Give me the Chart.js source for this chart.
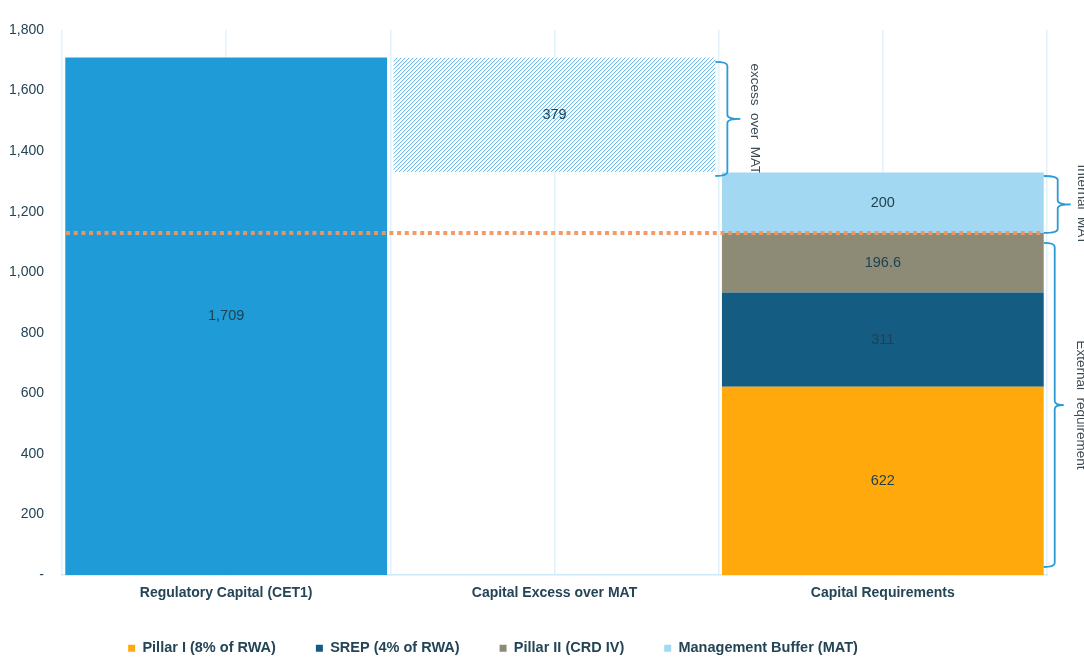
<!DOCTYPE html>
<html>
<head>
<meta charset="utf-8">
<script src="https://cdn.jsdelivr.net/npm/chart.js@4.4.1/dist/chart.umd.min.js"></script>
<style>
  html, body { margin: 0; padding: 0; background: #fff; }
  canvas { display: block; }
</style>
</head>
<body>
<canvas id="capital-chart" width="1084" height="657"></canvas>
<script>
const FONT = "'Liberation Sans', Arial, sans-serif"
const TEXT_COLOR = '#234556'

// Data
const categories = ['Regulatory Capital (CET1)', 'Capital Excess over MAT', 'Capital Requirements']
const regulatoryCapital = [1709, null, null]
const excessOverMat = [null, [1330, 1709], null]
const pillarOne = [null, null, 622]
const srep = [null, null, 311]
const pillarTwo = [null, null, 196.6]
const managementBuffer = [null, null, 200]
const yMax = 1800
const yStep = 200

// level of the dotted line (pillar I + SREP + pillar II)
const externalLevel = pillarOne[2] + srep[2] + pillarTwo[2]

// braces on the right: [from, to] in axis units, category they sit next to
const braces = [
  { text: 'excess over MAT', from: 1318, to: 1695, cat: 1, arm: 12, nub: 13, textDx: 39 },
  { text: 'Internal MAT', from: 1130, to: 1318, cat: 2, arm: 14, nub: 13, textDx: 38 },
  { text: 'External requirement', from: 27, to: 1097, cat: 2, arm: 11, nub: 9, textDx: 37 },
]

const ctxCapital = document.getElementById('capital-chart').getContext('2d')

function barRightEdge(chart, cat) {
  let edge = null
  chart.data.datasets.forEach((ds, i) => {
    if (ds.data[cat] == null) return
    const el = chart.getDatasetMeta(i).data[cat]
    edge = el.x + el.width / 2
  })
  return edge
}

// diagonal hatch for the "excess" bar, drawn inside the bar element
const hatch = {
  id: 'hatch',
  afterDatasetDraw(chart, args) {
    const ds = chart.data.datasets[args.index]
    if (!ds.hatched) return
    const ctx = chart.ctx
    args.meta.data.forEach((el, j) => {
      if (ds.data[j] == null) return
      const l = el.x - el.width / 2
      const r = el.x + el.width / 2
      const t = Math.min(el.y, el.base)
      const b = Math.max(el.y, el.base)
      const h = b - t
      ctx.save()
      ctx.beginPath()
      ctx.rect(l, t, r - l, h)
      ctx.clip()
      ctx.strokeStyle = '#45a4dd'
      ctx.lineWidth = 0.9
      ctx.beginPath()
      for (let s = l - h; s < r; s += 4) {
        ctx.moveTo(s, b)
        ctx.lineTo(s + h, t)
      }
      ctx.stroke()
      ctx.restore()
    })
  },
}

// rotated brace captions go under the bars (the bar hides the tail of "MAT")
const braceText = {
  id: 'braceText',
  beforeDatasetsDraw(chart) {
    const { ctx, scales: { y } } = chart
    ctx.save()
    ctx.fillStyle = '#3b4a53'
    ctx.font = '13.5px ' + FONT
    ctx.textAlign = 'center'
    ctx.textBaseline = 'middle'
    braces.forEach(b => {
      const x = barRightEdge(chart, b.cat) + b.textDx
      const mid = (y.getPixelForValue(b.from) + y.getPixelForValue(b.to)) / 2
      ctx.save()
      ctx.translate(x, mid)
      ctx.rotate(Math.PI / 2)
      ctx.fillText(b.text.split(' ').join('  '), 0, 0)
      ctx.restore()
    })
    ctx.restore()
  },
}

const overlay = {
  id: 'overlay',
  afterDatasetsDraw(chart) {
    const { ctx, chartArea, scales: { y } } = chart

    // dotted line at the external requirement level
    const ly = y.getPixelForValue(externalLevel)
    ctx.save()
    ctx.strokeStyle = 'rgba(240, 150, 95, 0.95)'
    ctx.lineWidth = 4
    ctx.setLineDash([4, 3.7])
    ctx.beginPath()
    ctx.moveTo(chartArea.left + 4, ly)
    ctx.lineTo(chartArea.right - 4, ly)
    ctx.stroke()
    ctx.restore()

    // braces
    ctx.save()
    ctx.strokeStyle = '#2b9ad6'
    ctx.lineWidth = 1.8
    braces.forEach(b => {
      const x0 = barRightEdge(chart, b.cat)
      const xv = x0 + b.arm
      const xn = xv + b.nub
      const top = y.getPixelForValue(b.to)
      const bottom = y.getPixelForValue(b.from)
      const mid = (top + bottom) / 2
      const r = 4
      ctx.beginPath()
      ctx.moveTo(x0, top)
      ctx.quadraticCurveTo(xv, top, xv, top + r)
      ctx.lineTo(xv, mid - r)
      ctx.quadraticCurveTo(xv, mid, xn, mid)
      ctx.quadraticCurveTo(xv, mid, xv, mid + r)
      ctx.lineTo(xv, bottom - r)
      ctx.quadraticCurveTo(xv, bottom, x0, bottom)
      ctx.stroke()
    })
    ctx.restore()

    // value labels in the middle of every bar
    ctx.save()
    ctx.fillStyle = '#1e4252'
    ctx.font = '14.5px ' + FONT
    ctx.textAlign = 'center'
    ctx.textBaseline = 'middle'
    chart.data.datasets.forEach((ds, i) => {
      const meta = chart.getDatasetMeta(i)
      ds.data.forEach((raw, j) => {
        if (raw == null) return
        const v = Array.isArray(raw) ? raw[1] - raw[0] : raw
        const el = meta.data[j]
        ctx.fillText(v.toLocaleString('en-US', { maximumFractionDigits: 1 }), el.x, (el.y + el.base) / 2)
      })
    })
    ctx.restore()
  },
}

// legend in the reference sits left of centre and close to the bottom edge
const legendNudge = {
  id: 'legendNudge',
  afterLayout(chart) {
    const lg = chart.legend
    lg.left -= 35
    lg.right -= 35
    lg.top -= 3
    lg.bottom = chart.height
  },
}

const barOpts = { barPercentage: 0.98, categoryPercentage: 1, borderWidth: 0 }

const dataCapital = {
  labels: categories,
  datasets: [
    { label: 'Pillar I (8% of RWA)', data: pillarOne, backgroundColor: '#ffa90c', ...barOpts },
    { label: 'SREP (4% of RWA)', data: srep, backgroundColor: '#155c82', ...barOpts },
    { label: 'Pillar II (CRD IV)', data: pillarTwo, backgroundColor: '#8d8a76', ...barOpts },
    { label: 'Management Buffer (MAT)', data: managementBuffer, backgroundColor: '#a3d8f2', ...barOpts },
    { label: 'Regulatory Capital (CET1)', data: regulatoryCapital, backgroundColor: '#1f9bd7', ...barOpts },
    { label: 'Capital Excess over MAT', data: excessOverMat, backgroundColor: '#ffffff', hatched: true, ...barOpts },
  ],
}

const configCapital = {
  type: 'bar',
  data: dataCapital,
  plugins: [braceText, hatch, overlay, legendNudge],
  options: {
    responsive: false,
    animation: false,
    layout: { padding: { left: 9, right: 37, top: 30, bottom: 13 } },
    plugins: {
      tooltip: { enabled: false },
      legend: {
        position: 'bottom',
        maxHeight: 40,
        labels: {
          filter: item => item.datasetIndex < 4,
          boxWidth: 7,
          boxHeight: 7,
          padding: 40,
          color: TEXT_COLOR,
          font: { family: FONT, size: 14.5, weight: 'bold' },
        },
      },
    },
    scales: {
      x: {
        stacked: true,
        grid: { display: false },
        border: { color: '#cfeaf7', width: 1.5 },
        ticks: {
          color: TEXT_COLOR,
          padding: 2,
          font: { family: FONT, size: 14, weight: 'bold' },
        },
      },
      // only used for the light vertical lines (bar edges and bar centres)
      xg: {
        type: 'linear',
        position: 'top',
        min: 0,
        max: 6,
        offset: false,
        grid: { color: '#e2f2fb', lineWidth: 1.5, drawTicks: false, offset: false },
        border: { display: false },
        ticks: { display: false, stepSize: 1 },
      },
      y: {
        stacked: true,
        min: 0,
        max: yMax,
        grid: { display: false, drawTicks: false },
        border: { display: false },
        afterFit: scale => { scale.width = 53 },
        ticks: {
          stepSize: yStep,
          padding: 18,
          color: TEXT_COLOR,
          font: { family: FONT, size: 14 },
          callback: v => (v === 0 ? '-' : v.toLocaleString('en-US')),
        },
      },
    },
  },
}

const capitalChart = new Chart(ctxCapital, configCapital)
</script>
</body>
</html>
